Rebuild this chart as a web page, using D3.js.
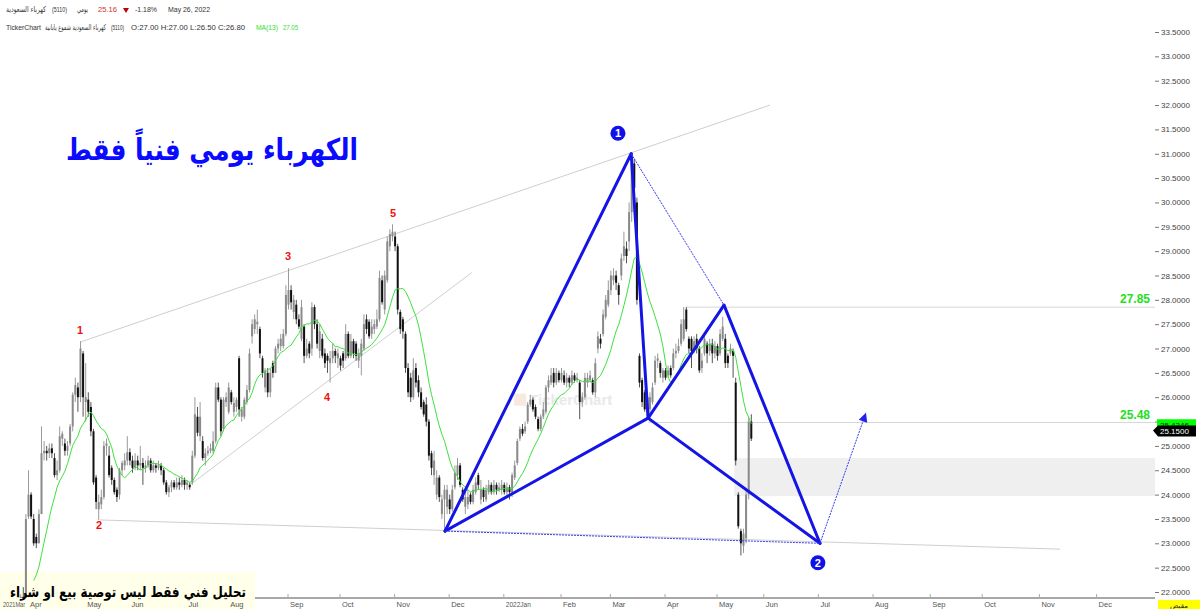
<!DOCTYPE html>
<html><head><meta charset="utf-8">
<script src="https://cdn.jsdelivr.net/npm/d3@7"></script>
<style>body{margin:0;background:#fff;overflow:hidden}svg{display:block}</style>
</head><body><svg id="c" width="1200" height="609"></svg>
<script>
// ---- DATA (daily bars, index 0 = early Mar 2021) ----
const opens=[
21.4,21.5,21.45,21.6,21.55,21.7,21.65,21.8,21.9,21.85,
23.55,24.0,23.5,23.13,23.0,23.6,24.85,24.9,24.85,24.95,
24.75,24.4,24.5,25.15,25.05,24.9,25.05,25.4,26.05,26.2,
26.0,26.9,25.9,25.95,25.8,25.3,24.35,23.7,23.8,23.95,
25.0,24.8,24.55,24.3,24.1,24.0,24.5,24.6,24.7,24.87,
24.7,24.55,24.7,24.6,24.65,24.55,24.6,24.7,24.5,24.6,
24.55,24.6,24.5,24.25,24.05,24.15,24.25,24.15,24.25,24.2,
24.3,24.2,24.2,24.25,24.8,25.6,25.2,25.1,24.75,24.85,
24.9,24.9,25.1,26.2,25.95,25.35,25.9,25.7,26.1,25.7,
25.8,26.8,25.6,25.6,25.9,26.15,27.25,27.4,27.5,27.4,
26.8,26.2,26.5,26.1,26.7,26.5,27.0,27.05,27.05,27.3,
27.9,28.2,27.75,27.9,27.6,27.2,27.45,26.85,27.1,27.0,
27.85,27.5,26.95,27.2,26.9,26.85,26.7,26.8,26.95,26.8,
26.8,26.9,26.8,27.3,26.85,27.15,27.1,26.75,26.85,27.0,
27.6,27.55,27.3,27.4,27.45,27.6,28.4,27.8,28.4,29.1,
29.3,29.3,29.1,27.75,27.6,27.3,26.6,26.4,26.0,26.6,
26.35,26.1,25.9,25.85,25.5,24.85,24.4,24.0,24.35,23.6,
23.9,23.75,23.9,23.7,24.15,24.4,24.6,24.1,23.75,23.8,
24.0,23.85,24.05,24.4,23.9,24.1,23.9,24.05,24.2,24.05,
24.2,24.1,24.1,24.2,24.05,24.15,24.0,24.35,24.65,25.15,
25.35,25.3,25.5,25.85,25.95,25.8,25.55,25.35,25.6,25.7,
26.2,26.3,26.5,26.3,26.5,26.35,26.45,26.3,26.4,26.3,
26.45,26.35,26.3,25.9,26.0,26.3,26.35,26.35,26.1,27.0,
27.2,27.3,27.65,27.9,28.2,28.4,28.5,28.3,28.5,28.9,
29.05,29.2,29.8,30.8,30.0,26.85,26.35,26.1,26.0,25.75,
25.9,26.3,26.75,26.7,26.4,26.55,26.45,26.6,26.6,26.9,
26.95,27.1,27.2,27.8,27.2,27.2,26.97,27.2,27.0,26.6,
26.9,27.1,26.95,27.1,26.9,27.05,26.9,27.2,27.2,26.85,
26.9,26.95,26.3,24.0,23.25,22.95,23.1,24.0,25.5];
const highs=[
21.6,21.7,21.7,21.75,21.8,21.8,21.9,21.95,22.1,23.6,
24.5,24.05,23.6,23.2,23.7,25.4,25.1,25.0,25.05,25.05,
24.85,24.7,25.4,25.3,25.15,25.1,25.45,26.1,26.4,26.3,
27.15,26.95,26.7,26.1,25.9,25.35,24.4,24.0,24.1,25.1,
25.15,25.0,24.6,24.35,24.15,24.55,24.7,24.85,25.2,24.95,
24.8,24.85,24.8,25.0,24.75,24.7,24.8,24.75,24.7,24.65,
24.7,24.65,24.55,24.3,24.2,24.3,24.3,24.35,24.35,24.4,
24.35,24.3,24.25,24.9,26.0,25.8,25.9,25.2,24.95,25.0,
25.05,25.3,26.3,26.3,26.0,26.0,26.1,26.3,26.15,26.0,
26.0,26.85,25.8,26.0,26.25,27.0,27.6,27.7,27.8,27.45,
26.85,26.6,26.6,26.6,26.75,27.05,27.2,27.3,27.4,28.3,
28.65,28.3,28.1,28.0,27.7,28.0,27.5,27.2,27.15,27.95,
27.9,27.6,27.5,27.3,27.0,26.9,26.95,27.1,27.0,27.0,
26.85,26.95,27.5,27.35,27.3,27.2,27.15,27.0,27.2,27.7,
27.7,27.6,27.6,27.6,27.8,28.6,28.5,28.6,29.3,29.45,
29.55,29.4,29.15,27.8,27.65,27.35,26.7,26.5,26.8,26.7,
26.45,26.2,25.95,26.0,25.55,24.9,24.9,24.5,24.4,24.0,
24.2,24.2,24.0,24.2,24.6,24.75,24.65,24.15,24.05,24.1,
24.05,24.2,24.35,24.45,24.3,24.15,24.2,24.3,24.25,24.3,
24.25,24.25,24.3,24.25,24.25,24.2,24.45,24.7,25.15,25.4,
25.45,25.5,25.9,26.05,26.0,25.85,25.6,25.65,25.9,26.25,
26.45,26.6,26.6,26.6,26.55,26.6,26.55,26.5,26.45,26.55,
26.5,26.5,26.35,26.1,26.5,26.5,26.55,26.4,26.8,27.35,
27.3,27.8,28.1,28.4,28.6,28.65,28.6,28.35,28.95,29.4,
29.2,30.0,31.0,30.9,30.1,26.9,26.4,26.15,26.05,26.1,
26.3,26.85,26.9,26.75,26.6,26.6,26.65,26.65,27.0,27.1,
27.2,27.6,27.85,27.85,27.25,27.25,27.25,27.3,27.05,26.9,
27.3,27.15,27.2,27.2,27.15,27.1,27.4,27.65,27.3,26.9,
27.1,27.0,26.4,24.05,23.3,23.3,24.1,25.6,25.65];
const lows=[
21.3,21.4,21.4,21.5,21.5,21.55,21.6,21.7,21.8,21.8,
23.5,23.5,22.95,22.9,23.0,23.6,24.7,24.7,24.75,24.75,
24.35,24.3,24.45,25.0,24.8,24.8,25.0,25.3,25.9,25.7,
25.9,25.6,25.5,25.6,25.2,24.2,23.7,23.48,23.7,23.9,
24.8,24.35,24.2,24.0,23.85,23.9,24.4,24.5,24.6,24.6,
24.45,24.5,24.5,24.5,24.2,24.45,24.55,24.45,24.45,24.45,
24.5,24.4,24.2,24.0,23.95,24.05,24.1,24.1,24.1,24.15,
24.1,24.1,24.1,24.2,24.75,25.2,25.1,24.7,24.6,24.8,
24.85,24.85,25.05,25.9,25.2,25.3,25.8,25.65,25.85,25.6,
25.7,25.6,25.5,25.55,25.85,26.1,27.1,27.3,27.3,26.8,
26.4,26.1,26.0,26.0,26.4,26.5,26.9,26.95,27.0,27.25,
27.8,27.8,27.6,27.5,27.4,27.15,26.7,26.8,26.8,26.85,
27.4,27.0,26.8,26.8,26.6,26.5,26.3,26.7,26.7,26.6,
26.55,26.6,26.75,26.8,26.8,26.8,26.75,26.6,26.45,26.95,
27.3,27.2,27.2,27.3,27.4,27.55,27.9,27.7,28.35,29.0,
29.2,29.0,27.7,27.3,27.2,26.5,26.0,25.9,25.95,26.2,
26.0,25.75,25.6,25.4,24.7,24.4,24.2,23.9,23.85,23.5,
23.25,23.6,23.6,23.65,24.1,24.3,24.15,23.85,23.6,23.7,
23.8,23.8,24.0,24.1,23.8,23.85,23.85,24.0,24.0,24.0,
24.0,24.05,24.0,24.0,23.95,23.9,23.95,24.3,24.6,25.1,
25.2,25.25,25.45,25.8,25.7,25.55,25.3,25.3,25.55,25.65,
26.1,26.25,26.2,26.25,26.3,26.3,26.25,26.2,26.2,26.25,
26.3,26.3,25.55,25.8,25.95,26.2,26.3,26.05,26.0,26.9,
27.0,27.25,27.6,27.85,28.1,28.3,28.2,27.9,28.4,28.8,
28.75,29.0,29.6,29.8,27.9,26.2,25.8,25.7,25.6,25.5,
25.85,26.25,26.6,26.4,26.3,26.35,26.4,26.4,26.55,26.8,
26.9,27.05,27.15,27.35,26.9,26.6,26.9,26.9,26.5,26.5,
26.85,26.7,26.85,26.7,26.8,26.75,26.85,27.15,26.6,26.6,
26.85,26.4,24.6,23.3,22.75,22.8,23.0,23.9,25.1];
const closes=[
21.5,21.45,21.6,21.55,21.7,21.65,21.8,21.9,21.85,23.5,
24.0,23.55,23.0,23.0,23.6,24.85,24.9,24.85,24.95,24.85,
24.4,24.5,25.2,25.25,24.9,25.0,25.4,26.05,26.25,26.0,
27.0,26.0,26.0,25.7,25.3,24.25,23.85,23.85,23.95,25.0,
25.05,24.4,24.3,24.05,23.95,24.5,24.65,24.7,24.87,24.7,
24.55,24.7,24.6,24.65,24.55,24.6,24.7,24.5,24.6,24.55,
24.6,24.5,24.25,24.05,24.15,24.25,24.15,24.25,24.2,24.3,
24.2,24.25,24.15,24.8,25.65,25.27,25.6,24.75,24.85,24.9,
24.95,25.1,26.2,25.95,25.3,25.95,26.0,26.2,25.9,25.88,
25.95,25.75,25.75,25.95,26.15,26.9,27.5,27.6,27.55,26.9,
26.5,26.55,26.1,26.5,26.5,27.0,27.1,27.2,27.3,28.1,
28.2,27.95,28.0,27.6,27.45,27.85,26.85,27.0,26.9,27.85,
27.5,27.1,27.35,26.85,26.7,26.75,26.8,26.95,26.85,26.9,
26.65,26.75,27.3,26.85,27.15,26.9,26.85,26.9,27.1,27.5,
27.4,27.25,27.45,27.5,27.6,28.45,27.95,28.5,29.2,29.35,
29.4,29.1,27.8,27.4,27.35,26.6,26.1,26.0,26.55,26.3,
26.1,25.8,25.65,25.5,24.8,24.55,24.7,24.35,23.95,23.9,
24.1,24.1,23.7,24.1,24.45,24.6,24.2,23.9,23.95,23.95,
23.85,24.1,24.25,24.2,24.1,23.95,24.1,24.2,24.05,24.2,
24.1,24.15,24.2,24.05,24.15,24.05,24.4,24.6,25.1,25.35,
25.25,25.4,25.85,25.95,25.75,25.6,25.35,25.6,25.75,26.2,
26.35,26.45,26.3,26.5,26.35,26.5,26.3,26.4,26.3,26.45,
26.35,26.4,25.9,26.0,26.4,26.4,26.45,26.1,26.7,27.25,
27.1,27.7,28.0,28.2,28.5,28.5,28.35,28.1,28.85,29.1,
28.9,29.8,30.8,30.3,28.0,26.3,25.9,25.75,25.75,26.0,
26.2,26.75,26.8,26.5,26.55,26.4,26.55,26.45,26.9,26.95,
27.05,27.5,27.6,27.4,27.0,26.95,27.15,27.0,26.55,26.75,
27.2,26.9,27.1,26.9,27.05,26.85,27.3,27.45,26.7,26.7,
27.0,26.85,24.7,23.35,23.0,23.2,24.0,25.5,25.15];

const monthLabels=["2021Mar","Apr","May","Jun","Jul","Aug","Sep","Oct","Nov","Dec","2022Jan","Feb","Mar","Apr","May","Jun","Jul","Aug","Sep","Oct","Nov","Dec"];
const monthIdx=[0,10,32,49,71,87,110,130,151,172,193,215,234,255,275,293,314,335,357,377,399,421];
const priceTicks=[22,22.5,23,23.5,24,24.5,25,25.5,26,26.5,27,27.5,28,28.5,29,29.5,30,30.5,31,31.5,32,32.5,33,33.5];
const maPeriod=13;
const maLast=25.4346, lastClose=25.15;
const levels=[{p:27.85,from:263,label:"27.85"},{p:25.48,from:248.5,label:"25.48"}];
const zone={from:281.6,p0:23.97,p1:24.75};
const waveLabels=[{t:"1",i:30,p:27.38},{t:"2",i:37.3,p:23.38},{t:"3",i:110,p:28.9},{t:"4",i:125,p:26.0},{t:"5",i:150.4,p:29.78}];
const harmonic={A:[170.4,23.25],X:[242,31.0],B:[248.5,25.57],C:[277.7,27.89],D:[314.6,23.0],T:[332.3,25.68]};
const grayLines=[[[30,27.13],[295.4,32.0]],[[37.7,23.48],[406.9,22.88]],[[72.3,24.2],[180.7,28.56]]];
const circled=[{t:"1",i:236.9,p:31.42},{t:"2",i:313.8,p:22.6}];

// ---- SCALES ----
const plotR=1155, plotB=598;
const x=d3.scaleLinear().domain([0,421]).range([2,2+2.6*421]);
const y=d3.scaleLinear().domain([22,33.5]).range([592,32]);
const svg=d3.select("#c");
const fnt="Liberation Sans, Arial";
svg.append("defs").append("clipPath").attr("id","clip").append("rect").attr("x",0).attr("y",0).attr("width",plotR).attr("height",plotB);

// disclaimer box (background)
svg.append("rect").attr("x",0).attr("y",572).attr("width",255).attr("height",37).attr("fill","#ffffea");

const g=svg.append("g").attr("clip-path","url(#clip)");

// zone
g.append("rect").attr("x",x(zone.from)).attr("y",y(zone.p1)).attr("width",plotR-x(zone.from)).attr("height",y(zone.p0)-y(zone.p1)).attr("fill","#efefef");

// watermark
const wm=g.append("g").attr("opacity",0.55);
wm.append("rect").attr("x",x(197)).attr("y",y(25.95)-6).attr("width",12).attr("height",12).attr("fill","#f2d6c8");
wm.append("text").attr("x",x(197)+15).attr("y",y(25.95)+5).text("TickerChart").attr("font-family",fnt).attr("font-weight","bold").attr("font-size",15).attr("fill","#d8d8d8");

// gray lines
grayLines.forEach(l=>g.append("line").attr("x1",x(l[0][0])).attr("y1",y(l[0][1])).attr("x2",x(l[1][0])).attr("y2",y(l[1][1])).attr("stroke","#cfcfcf").attr("stroke-width",1));
levels.forEach(l=>{
  g.append("line").attr("x1",x(l.from)).attr("x2",plotR).attr("y1",y(l.p)).attr("y2",y(l.p)).attr("stroke","#d6d6d6").attr("stroke-width",1);
  svg.append("text").attr("x",1150).attr("y",y(l.p)-4).attr("text-anchor","end").text(l.label).attr("font-family",fnt).attr("font-weight","bold").attr("font-size",12).attr("fill","#22e022");
});

// candles
const idx=d3.range(closes.length);
const cg=g.append("g");
idx.forEach(i=>{
  const up=closes[i]>=opens[i];
  cg.append("line").attr("x1",x(i)+0.5).attr("x2",x(i)+0.5).attr("y1",y(highs[i])).attr("y2",y(lows[i])).attr("stroke",up?"#9a9a9a":"#555").attr("stroke-width",1);
  const top=y(Math.max(opens[i],closes[i])), bot=y(Math.min(opens[i],closes[i]));
  cg.append("rect").attr("x",x(i)-0.5).attr("y",top).attr("width",2).attr("height",Math.max(1,bot-top)).attr("fill",up?"#8a8a8a":"#111");
});

// MA(13)
const ma=idx.filter(i=>i>=maPeriod-1).map(i=>[i,d3.mean(closes.slice(i-maPeriod+1,i+1))]);
g.append("path").datum(ma).attr("d",d3.line().x(d=>x(d[0])+0.5).y(d=>y(d[1]))).attr("fill","none").attr("stroke","#3ee03e").attr("stroke-width",1);

// harmonic pattern
const P=k=>[x(harmonic[k][0]),y(harmonic[k][1])];
[["A","X"],["X","B"],["A","B"],["B","C"],["C","D"],["B","D"]].forEach(([a,b])=>g.append("line").attr("x1",P(a)[0]).attr("y1",P(a)[1]).attr("x2",P(b)[0]).attr("y2",P(b)[1]).attr("stroke","#1414e6").attr("stroke-width",3).attr("stroke-linecap","round"));
[["X","C"],["A","D"],["D","T"]].forEach(([a,b])=>g.append("line").attr("x1",P(a)[0]).attr("y1",P(a)[1]).attr("x2",P(b)[0]).attr("y2",P(b)[1]).attr("stroke","#3a3af0").attr("stroke-width",1).attr("stroke-dasharray","2,1"));
{ const [tx,ty]=P("T"),[dx,dy]=P("D"); const ang=Math.atan2(ty-dy,tx-dx);
  const L=9,Wd=4.5;
  const p2=[tx-L*Math.cos(ang)+Wd*Math.sin(ang),ty-L*Math.sin(ang)-Wd*Math.cos(ang)],p3=[tx-L*Math.cos(ang)-Wd*Math.sin(ang),ty-L*Math.sin(ang)+Wd*Math.cos(ang)];
  g.append("path").attr("d","M"+[tx,ty]+"L"+p2+"L"+p3+"Z").attr("fill","#2020f0"); }

// wave labels
waveLabels.forEach(w=>svg.append("text").attr("x",x(w.i)).attr("y",y(w.p)).attr("dy","0.35em").attr("text-anchor","middle").text(w.t).attr("font-family",fnt).attr("font-weight","bold").attr("font-size",11).attr("fill","#ee1111"));
circled.forEach(c=>{
  svg.append("circle").attr("cx",x(c.i)).attr("cy",y(c.p)).attr("r",7.5).attr("fill","#1010e8");
  svg.append("text").attr("x",x(c.i)).attr("y",y(c.p)).attr("dy","0.36em").attr("text-anchor","middle").text(c.t).attr("font-family",fnt).attr("font-weight","bold").attr("font-size",11).attr("fill","#fff");
});

// title
svg.append("text").attr("x",212).attr("y",160).attr("text-anchor","middle").text("الكهرباء يومي فنياً فقط").attr("font-family","DejaVu Sans").attr("font-weight","bold").attr("font-size",30).attr("textLength",292).attr("lengthAdjust","spacingAndGlyphs").attr("fill","#0a0aff");

// bottom axis
svg.append("line").attr("x1",255).attr("x2",plotR).attr("y1",plotB).attr("y2",plotB).attr("stroke","#a8a8a8").attr("stroke-width",2);
monthIdx.forEach((m,k)=>{
  if(x(m)>255) svg.append("line").attr("x1",x(m)).attr("x2",x(m)).attr("y1",plotB-4).attr("y2",plotB).attr("stroke","#aaa");
  const t=svg.append("text").attr("x",x(m)+(k===0?1:2)).attr("y",607).text(monthLabels[k]).attr("font-family",fnt).attr("font-size",7.5).attr("fill","#555");
  if(monthLabels[k].length>4) t.attr("textLength",k===0?22:25).attr("lengthAdjust","spacingAndGlyphs");
});

// right axis
const ax=svg.append("g").attr("transform",`translate(${plotR},0)`).call(d3.axisRight(y).tickValues(priceTicks).tickFormat(d3.format(".4f")).tickSize(4).tickPadding(2));
ax.select(".domain").remove();
ax.selectAll("line").attr("stroke","#777");
ax.selectAll("text").attr("font-family",fnt).attr("font-size",8).attr("fill","#444");

// value tags
svg.append("rect").attr("x",1157).attr("y",y(maLast)-5.5).attr("width",39).attr("height",11).attr("fill","#00ff00");
svg.append("text").attr("x",1160).attr("y",y(maLast)+3).text(maLast.toFixed(4)).attr("font-family",fnt).attr("font-size",8).attr("fill","#222");
{ const cy=y(lastClose)-8;
  svg.append("path").attr("d",`M1153,${cy}L1158,${cy-5}L1196,${cy-5}L1196,${cy+6}L1158,${cy+6}Z`).attr("fill","#000");
  svg.append("text").attr("x",1160).attr("y",cy+3).text(lastClose.toFixed(4)).attr("font-family",fnt).attr("font-size",8).attr("fill","#fff"); }
svg.append("rect").attr("x",1158).attr("y",600).attr("width",42).attr("height",9).attr("fill","#ffff00");
svg.append("text").attr("x",1179).attr("y",607.5).attr("text-anchor","middle").text("مقبض").attr("font-family","DejaVu Sans").attr("font-size",7).attr("fill","#222");

// disclaimer text
svg.append("text").attr("x",128).attr("y",597).attr("text-anchor","middle").text("تحليل فني فقط  ليس توصية بيع او شراء").attr("font-family","DejaVu Sans").attr("font-weight","bold").attr("font-size",15).attr("textLength",236).attr("lengthAdjust","spacingAndGlyphs").attr("fill","#000");

// header
const hdr=(t,xx,yy,w,col,fam)=>svg.append("text").attr("x",xx).attr("y",yy).text(t).attr("font-family",fam||fnt).attr("font-size",8).attr("fill",col||"#333").attr("textLength",w).attr("lengthAdjust","spacingAndGlyphs");
hdr("كهرباء السعودية",6,12,40,"#333","DejaVu Sans");
hdr("(5110)",52,12,15);
hdr("يومي",77,12,11,"#333","DejaVu Sans");
hdr("25.16",98,12,19,"#d03030");
svg.append("path").attr("d","M123,8L129,8L126,13Z").attr("fill","#c00000");
hdr("-1.18%",135,12,22);
hdr("May 26, 2022",168,12,42);
hdr("TickerChart",6,30,35);
hdr("كهرباء السعودية شموع يابانية",45,30,61,"#333","DejaVu Sans");
hdr("(5110)",111,30,13);
hdr("O:27.00  H:27.00  L:26.50  C:26.80",131,30,114);
hdr("MA(13)",256,30,22,"#33dd33");
hdr("27.05",283,30,15,"#33dd33");
</script></body></html>
